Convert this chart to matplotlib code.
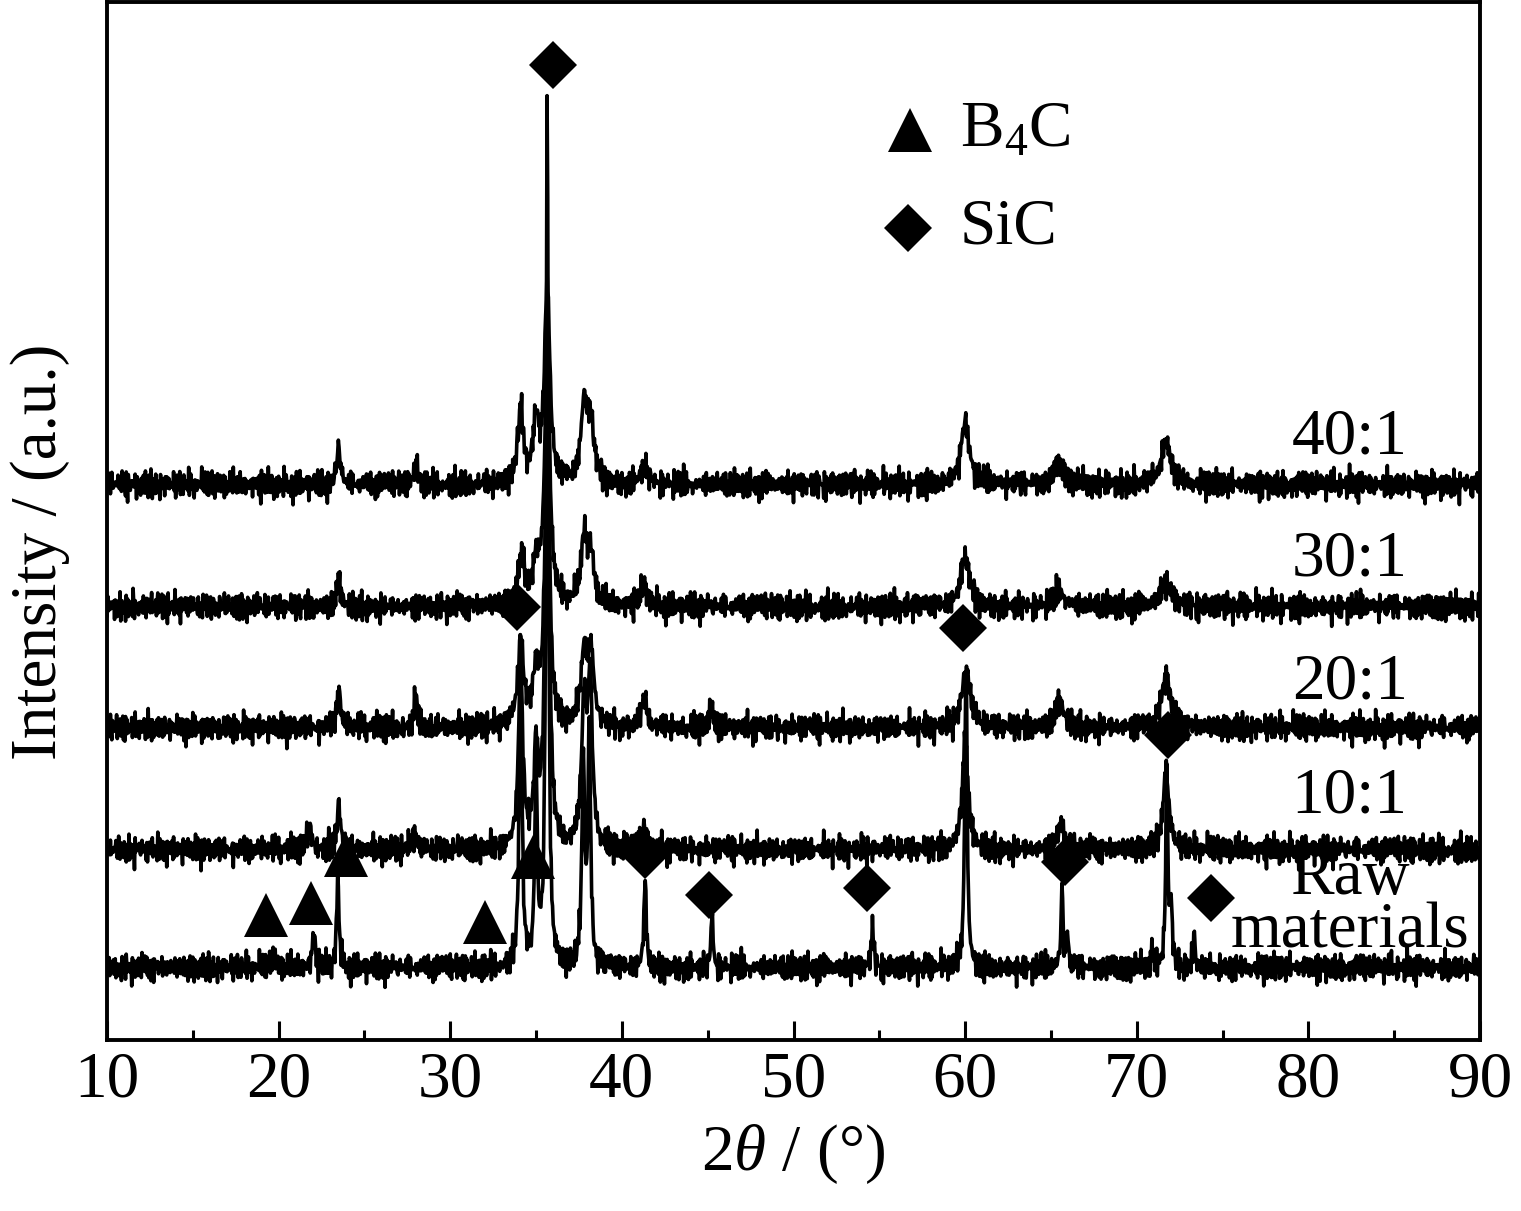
import numpy as np
import matplotlib.pyplot as plt
from matplotlib.ticker import MultipleLocator

plt.rcParams['font.family'] = ['Liberation Serif', 'DejaVu Serif']
plt.rcParams['mathtext.fontset'] = 'custom'
plt.rcParams['mathtext.rm'] = 'Liberation Serif'
plt.rcParams['mathtext.it'] = 'Liberation Serif:italic'

# scan grid (2theta, deg)
two_theta = np.arange(10, 90.001, 0.04)

# sample labels, vertical offsets and label heights
samples = ['Raw\nmaterials', '10:1', '20:1', '30:1', '40:1']
offsets = [72, 190, 312, 433, 555]
label_y = [135, 243, 357, 480, 602]

# peaks: position, height, half width
raw_pos = [19.7, 22.05, 23.45, 34.1, 35.0, 35.65, 37.75, 38.1, 41.35, 45.25, 54.6, 60.05, 65.65, 65.95, 71.75, 72.0, 73.35, 70.9]
raw_h = [15, 36, 92, 340, 190, 878, 200, 240, 88, 55, 42, 316, 80, 35, 206, 60, 33, 22]
raw_w = [0.1, 0.1, 0.08, 0.09, 0.09, 0.08, 0.1, 0.09, 0.08, 0.07, 0.08, 0.08, 0.07, 0.07, 0.07, 0.08, 0.07, 0.07]

r10_pos = [21.8, 23.5, 27.9, 34.1, 35.0, 35.65, 37.8, 38.15, 41.3, 60.0, 65.6, 71.7]
r10_h = [22, 45, 15, 180, 95, 520, 140, 160, 22, 110, 25, 80]
r10_w = [0.15, 0.12, 0.15, 0.15, 0.15, 0.13, 0.18, 0.15, 0.2, 0.2, 0.25, 0.2]

r20_pos = [23.5, 28.0, 34.1, 35.0, 35.65, 37.8, 38.2, 41.3, 45.2, 60.05, 65.5, 71.7]
r20_h = [40, 30, 85, 55, 330, 72, 68, 28, 15, 60, 25, 52]
r20_w = [0.12, 0.12, 0.2, 0.2, 0.15, 0.22, 0.2, 0.2, 0.2, 0.28, 0.3, 0.3]

r30_pos = [23.5, 34.15, 35.0, 35.65, 37.8, 38.2, 41.3, 60.0, 65.5, 71.7]
r30_h = [25, 48, 40, 250, 65, 45, 20, 50, 15, 25]
r30_w = [0.15, 0.22, 0.22, 0.18, 0.22, 0.22, 0.25, 0.3, 0.35, 0.35]

r40_pos = [23.5, 28.0, 34.1, 35.0, 35.65, 37.8, 38.2, 41.3, 60.0, 65.5, 71.7]
r40_h = [40, 18, 72, 58, 200, 76, 56, 18, 62, 20, 42]
r40_w = [0.12, 0.15, 0.2, 0.2, 0.18, 0.22, 0.22, 0.25, 0.3, 0.35, 0.35]

peak_sets = [(raw_pos, raw_h, raw_w), (r10_pos, r10_h, r10_w), (r20_pos, r20_h, r20_w),
             (r30_pos, r30_h, r30_w), (r40_pos, r40_h, r40_w)]

# baseline jitter patterns (px), two lengths tiled along the scan
noise_a = [0.3, -0.8, 0.5, 1.0, -0.2, -0.9, 0.6, 0.1, -0.5, 1.6, -1.0, 0.2, 0.7, -0.4,
           -0.7, 0.8, 0.0, -1.7, 1.0, -0.3, 0.4, -0.9, 0.6, -0.1, 0.9, -0.8, 0.2, -0.5,
           1.5, 0.3, -1.0, 0.5, -0.2, 0.8, -0.6, 0.1, -1.5, 0.9, -0.4, 0.3, 0.6, -0.7,
           0.0, 1.0, -0.5, -0.2, 0.7, -0.9, 0.4, 0.2, -0.6, 1.7, -0.3, -0.8, 0.5, 0.9,
           -0.1, -0.7, 0.6, -0.4, 0.3, -1.0, 0.8, 0.1, -1.6, 0.7, -0.2, 0.4, -0.9, 0.9,
           0.0, -0.6, 0.5, -0.3, 1.4, -0.8, 0.2, 0.6, -0.4, -0.1, 0.8, -0.7, 0.3, -0.5,
           0.9, -0.2, 0.1, -1.4, 0.7, 0.4, -0.6, 0.2, -0.8, 1.0, -0.3, 0.5, -0.1]
noise_b = [-0.6, 0.9, -0.2, 0.4, -1.0, 0.7, 0.1, -0.5, 1.2, -0.8, 0.3, -0.1, 0.6, -1.1,
           0.8, -0.4, 0.2, 1.0, -0.7, 0.5, -0.3, -0.9, 1.1, 0.0, -0.6, 0.4, 0.9, -1.2,
           0.3, -0.2, 0.7, -0.5, 1.0, -0.8, 0.1, 0.6, -1.0, 0.5, -0.3, 0.8, -0.4]
noise_shift = [0, 23, 51, 71, 13]

# phase markers
sic_x = [36.0, 33.9, 59.9, 71.8, 41.35, 45.1, 54.3, 65.8, 74.3]
sic_y = [975, 433, 412, 305, 185, 145, 152, 178, 142]
b4c_x = [19.26, 21.9, 23.9, 32.0, 34.8]
b4c_y = [125, 137, 185, 118, 183]


def profile(pos, h, w):
    y = np.zeros_like(two_theta)
    for p, a, g in zip(pos, h, w):
        y += a / (1 + ((two_theta - p) / g) ** 2)
    return y


fig = plt.figure(figsize=(15.21, 12.11), dpi=100)
ax = fig.add_axes([107 / 1521, 1 - 1040 / 1211, 1373 / 1521, 1038 / 1211])

na = np.resize(np.array(noise_a), two_theta.size)
nb = np.resize(np.array(noise_b), two_theta.size)
for i, (pos, h, w) in enumerate(peak_sets):
    jitter = 8.0 * np.roll(na, noise_shift[i]) + 6.0 * np.roll(nb, 3 * noise_shift[i])
    y = offsets[i] + profile(pos, h, w) + jitter
    ax.plot(two_theta, y, color='black', lw=2.6)
    ax.text(82.4, label_y[i], samples[i], fontsize=47, ha='center', va='center', linespacing=0.85)

ax.plot(sic_x, sic_y, 'D', color='black', ms=24.5, mew=0)
ax.plot(b4c_x, b4c_y, '^', color='black', ms=32, mew=0)

# legend
ax.plot([56.8], [910], '^', color='black', ms=32, mew=0)
ax.plot([56.7], [812], 'D', color='black', ms=24.5, mew=0)
ax.text(59.7, 910, 'B$_4$C', fontsize=47, ha='left', va='center')
ax.text(59.7, 812, 'SiC', fontsize=47, ha='left', va='center')

ax.set_xlim(10, 90)
ax.set_ylim(0, 1038)
ax.xaxis.set_major_locator(MultipleLocator(10))
ax.xaxis.set_minor_locator(MultipleLocator(5))
ax.tick_params(axis='x', which='both', direction='in', width=2.2, labelsize=47, pad=8, top=False)
ax.tick_params(axis='x', which='major', length=14)
ax.tick_params(axis='x', which='minor', length=7)
ax.set_yticks([])
for s in ax.spines.values():
    s.set_linewidth(2.8)

ax.set_xlabel('2$\\theta$ / (°)', fontsize=47, labelpad=8)
ax.set_ylabel('Intensity / (a.u.)', fontsize=47, va='center')
ax.yaxis.set_label_coords(-0.049, 0.47)

fig.savefig('out.png', dpi=100)
